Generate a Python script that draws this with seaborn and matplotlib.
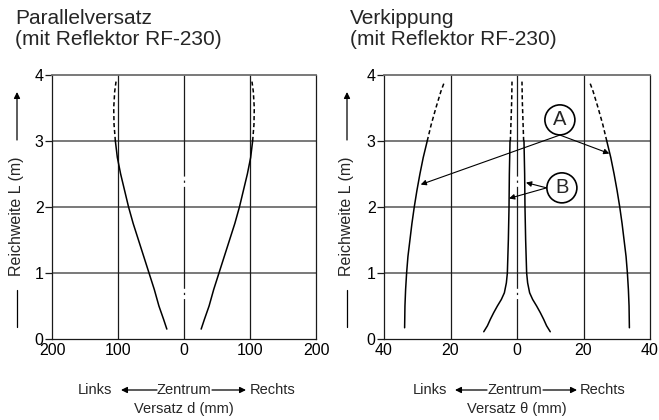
import numpy as np
import pandas as pd
import matplotlib
matplotlib.use("Agg")
import matplotlib.pyplot as plt
import seaborn as sns
from matplotlib.patches import Ellipse, FancyArrowPatch

sns.set_theme(style="white")
plt.rcParams['font.family'] = ['Liberation Sans', 'DejaVu Sans']
plt.rcParams['lines.scale_dashes'] = False

W, H = 659, 420

# ---------------- data ----------------
# Parallelversatz (right-hand curve; left curve is mirrored)
par_solid_L = [0.15, 0.3, 0.5, 0.75, 1.0, 1.25, 1.5, 1.75, 2.0, 2.25, 2.5, 2.75, 3.0]
par_solid_d = [26, 31, 38, 45, 53, 61, 69, 77, 84, 90, 96, 101, 104]
par_dash_L = [3.0, 3.25, 3.5, 3.75, 3.9]
par_dash_d = [104, 106, 106.5, 105, 103]

# Verkippung, outer curves (A)
kipA_solid_L = [0.17, 0.5, 0.75, 1.0, 1.25, 1.5, 1.75, 2.0, 2.25, 2.5, 2.75, 3.0]
kipA_solid_t = [33.8, 33.7, 33.5, 33.2, 32.8, 32.2, 31.6, 30.9, 30.1, 29.2, 28.2, 27.0]
kipA_dash_L = [3.0, 3.25, 3.5, 3.75, 3.9]
kipA_dash_t = [27.0, 25.8, 24.4, 22.9, 21.8]

# Verkippung, inner curves (B)
kipB_solid_L = [0.11, 0.2, 0.3, 0.4, 0.5, 0.6, 0.7, 0.85, 1.0, 1.5, 2.0, 2.5, 3.0]
kipB_solid_t = [10.0, 8.9, 8.0, 7.0, 5.9, 4.7, 3.8, 3.2, 2.9, 2.6, 2.4, 2.3, 2.1]
kipB_dash_L = [3.0, 3.3, 3.6, 3.9]
kipB_dash_t = [2.0, 1.8, 1.6, 1.5]

y_ticks = [0, 1, 2, 3, 4]
par_xticks = [-200, -100, 0, 100, 200]
par_xlabels = ["200", "100", "0", "100", "200"]
kip_xticks = [-40, -20, 0, 20, 40]
kip_xlabels = ["40", "20", "0", "20", "40"]

fig = plt.figure(figsize=(W / 100, H / 100), dpi=100)

def fx(px):
    return px / W

def fy(py):
    return 1 - py / H

ax1 = fig.add_axes([fx(52), fy(339), 264 / W, 264 / H])
ax2 = fig.add_axes([fx(384), fy(339), 266 / W, 264 / H])

DARK = "#1a1a1a"
GRID = "#6e6e6e"


def draw_pair(ax, Ls, vs, ls):
    for sgn in (1, -1):
        df = pd.DataFrame({"v": [sgn * v for v in vs], "L": Ls})
        sns.lineplot(data=df, x="v", y="L", sort=False, estimator=None,
                     orient="y", ax=ax, color="black", lw=1.1, zorder=3,
                     linestyle=ls)


def style_axes(ax, xlim, xticks, xlabels, vgrid):
    ax.set_xlim(*xlim)
    ax.set_ylim(0, 4)
    ax.set_xticks(xticks)
    ax.set_xticklabels(xlabels)
    ax.set_yticks(y_ticks)
    ax.set_yticklabels([str(v) for v in y_ticks])
    ax.tick_params(axis='y', direction='out', length=5, width=0.9, color=DARK,
                   labelsize=11.5, pad=1, left=True, labelcolor='black')
    ax.tick_params(axis='x', length=0, labelsize=11.5, pad=3, labelcolor='black')
    for yv in [1, 2, 3]:
        ax.axhline(yv, color=GRID, lw=1.3, zorder=1)
    for xv in vgrid:
        ax.axvline(xv, color=DARK, lw=0.9, zorder=1)
    # center chain line
    ax.plot([0, 0], [0, 4], color=DARK, lw=0.9, zorder=1,
            linestyle=(44.3, (73.4, 2.9, 1.6, 2.9)), dash_capstyle='butt')
    for side, sp in ax.spines.items():
        sp.set_visible(True)
        sp.set_linewidth(0.9)
        sp.set_color(DARK)
    ax.spines['top'].set_color(GRID)
    ax.spines['top'].set_linewidth(1.3)
    ax.set_facecolor("white")


draw_pair(ax1, par_solid_L, par_solid_d, '-')
draw_pair(ax1, par_dash_L, par_dash_d, (0, (3, 2)))
draw_pair(ax2, kipA_solid_L, kipA_solid_t, '-')
draw_pair(ax2, kipA_dash_L, kipA_dash_t, (0, (3, 2)))
draw_pair(ax2, kipB_solid_L, kipB_solid_t, '-')
draw_pair(ax2, kipB_dash_L, kipB_dash_t, (0, (3, 2)))

style_axes(ax1, (-200, 200), par_xticks, par_xlabels, [-100, 100])
style_axes(ax2, (-40, 40), kip_xticks, kip_xlabels, [-20, 20])
for ax in (ax1, ax2):
    ax.set_xlabel("")
    ax.set_ylabel("")

# ----- annotations A and B -----
xs = 80 / 266  # data units per px (x) in ax2
ys = 4 / 264
r = 15
arrow_kw = dict(arrowstyle="-|>", color="black", lw=0.8, mutation_scale=8,
                shrinkA=0, shrinkB=0)

A_c = (12.9, 3.32)
B_c = (13.5, 2.29)
for c, lab in ((A_c, "A"), (B_c, "B")):
    ax2.add_patch(Ellipse(c, 2 * r * xs, 2 * r * ys, fc="white", ec="black",
                          lw=1.2, zorder=5))
    ax2.text(c[0], c[1], lab, ha="center", va="center", fontsize=14.5,
             zorder=6)

A_start = (12.9, 3.09)
for tgt in [(-28.96, 2.34), (27.77, 2.81)]:
    ax2.annotate("", xy=tgt, xytext=A_start, arrowprops=arrow_kw, zorder=4)
B_start = (8.9, 2.29)
for tgt in [(2.7, 2.37), (-2.4, 2.13)]:
    ax2.annotate("", xy=tgt, xytext=B_start, arrowprops=arrow_kw, zorder=4)

# ----- titles -----
for x0, t in ((15, "Parallelversatz\n(mit Reflektor RF-230)"),
              (350, "Verkippung\n(mit Reflektor RF-230)")):
    fig.text(fx(x0), fy(9), t, ha="left", va="top", fontsize=15,
             linespacing=1.12)

# ----- y labels with arrows -----
for xc in (17, 347):
    fig.text(fx(xc), fy(216), "Reichweite L (m)", rotation=90, ha="center",
             va="center", fontsize=11.5)
    fig.add_artist(plt.Line2D([fx(xc), fx(xc)], [fy(327), fy(290)],
                              transform=fig.transFigure, color="black",
                              lw=0.9))
    fig.add_artist(FancyArrowPatch(
        (fx(xc), fy(140)), (fx(xc), fy(92)), transform=fig.transFigure,
        arrowstyle="-|>", mutation_scale=9, color="black", lw=0.9,
        shrinkA=0, shrinkB=0))

# ----- bottom labels -----
def bottom(links_r, tipL, tailL, zent_c, tailR, tipR, rechts_l, vers_c, vers):
    yb = fy(390)
    fig.text(fx(links_r), yb, "Links", ha="right", va="center", fontsize=10.5)
    fig.text(fx(zent_c), yb, "Zentrum", ha="center", va="center", fontsize=10.5)
    fig.text(fx(rechts_l), yb, "Rechts", ha="left", va="center", fontsize=10.5)
    for a, b in ((tailL, tipL), (tailR, tipR)):
        fig.add_artist(FancyArrowPatch(
            (fx(a), yb), (fx(b), yb), transform=fig.transFigure,
            arrowstyle="-|>", mutation_scale=9, color="black", lw=0.9,
            shrinkA=0, shrinkB=0))
    fig.text(fx(vers_c), fy(409), vers, ha="center", va="center", fontsize=10.5)

bottom(112, 121, 157, 184, 212, 246, 250, 184, "Versatz d (mm)")
bottom(447, 455, 487, 515, 543, 577, 580, 517, "Versatz θ (mm)")

fig.savefig("out.png", dpi=100, facecolor="white")
